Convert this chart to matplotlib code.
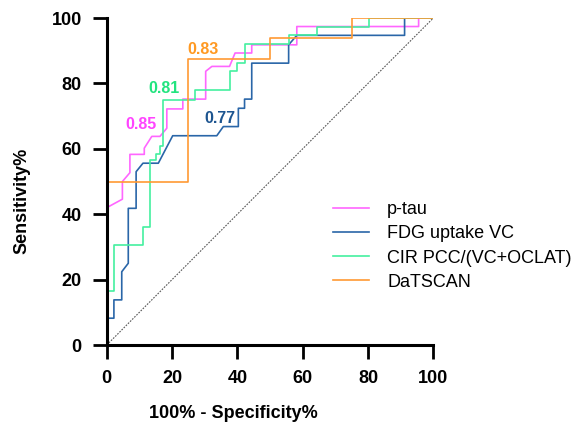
import matplotlib
matplotlib.use('Agg')
import matplotlib.pyplot as plt

plt.rcParams['font.family'] = ['Liberation Sans', 'DejaVu Sans']

# ROC curves (100% - specificity, sensitivity)
ptau_x = [0, 0, 4.8, 4.8, 7.1, 7.1, 11.5, 11.5, 13.8, 16.3, 18.4, 18.4, 23.3, 23.3,
          30.3, 30.3, 32.2, 37.6, 39.3, 44.4, 44.4, 58.2, 58.2, 95.5, 95.5, 100]
ptau_y = [0, 42, 44.6, 50, 52.7, 58.3, 58.3, 60.2, 63.8, 63.8, 66.3, 72.2, 72.2, 75.2,
          75.2, 83.7, 85.2, 85.2, 89.3, 89.3, 91.8, 91.8, 97.4, 97.4, 100, 100]

fdg_x = [0, 0, 2.2, 2.2, 4.6, 4.6, 6.6, 6.6, 9.0, 9.0, 11.1, 15.8, 20.2, 33.7, 35.7,
         40.3, 40.3, 42.2, 42.2, 44.4, 44.4, 55.7, 55.7, 58.2, 91.2, 91.2, 100]
fdg_y = [0, 8.2, 8.2, 13.8, 13.8, 22.4, 25.0, 41.8, 41.8, 53.0, 55.6, 55.6, 64.0, 64.0,
         66.8, 66.8, 72.4, 72.4, 75.2, 75.2, 86.2, 86.2, 91.8, 94.7, 94.7, 100, 100]

cir_x = [0, 0, 2.2, 2.2, 11.2, 11.2, 13.4, 13.4, 15.0, 15.0, 16.2, 16.2, 17.3, 17.3,
         26.9, 26.9, 37.8, 37.8, 40.0, 40.0, 42.2, 42.2, 55.7, 55.7, 64.5, 64.5,
         80.2, 80.2, 100]
cir_y = [0, 16.6, 16.6, 30.6, 30.6, 36.2, 36.2, 56.5, 56.5, 58.5, 58.5, 61.0, 61.0,
         75.0, 75.0, 78.0, 78.0, 83.7, 83.7, 86.2, 86.2, 92.0, 92.0, 94.7, 94.7, 97.4,
         97.4, 100, 100]

dat_x = [0, 0, 25, 25, 50, 50, 75, 75, 100]
dat_y = [0, 50, 50, 87.5, 87.5, 93.75, 93.75, 100, 100]

names = ['p-tau', 'FDG uptake VC', 'CIR PCC/(VC+OCLAT)', 'DaTSCAN']
colors = ['#ff66ff', '#2a66a8', '#44f0a0', '#ff9933']
auc_labels = ['0.85', '0.77', '0.81', '0.83']
label_colors = ['#ff44ff', '#1d5590', '#22e47f', '#ff9922']
label_pos = [(10.4, 67.3), (34.6, 69.4), (17.4, 78.3), (29.5, 90.3)]

fig = plt.figure(figsize=(5.75, 4.29), dpi=100)
ax = fig.add_axes([0.1856, 0.1958, 0.568, 0.7622])

ax.plot([0, 100], [0, 100], color='#555555', lw=0.8, linestyle=(0, (1.5, 1.2)))

curves = [(ptau_x, ptau_y), (fdg_x, fdg_y), (cir_x, cir_y), (dat_x, dat_y)]
for (xs, ys), c, n in zip(curves, colors, names):
    ax.plot(xs, ys, color=c, lw=1.2, label=n)

for t, c, (tx, ty) in zip(auc_labels, label_colors, label_pos):
    ax.text(tx, ty, t, color=c, fontsize=11.5, fontweight='bold',
            ha='center', va='center')

ax.set_xlim(0, 100)
ax.set_ylim(0, 100)
ax.set_xticks(range(0, 101, 20))
ax.set_yticks(range(0, 101, 20))
for s in ['top', 'right']:
    ax.spines[s].set_visible(False)
for s in ['left', 'bottom']:
    ax.spines[s].set_linewidth(2.2)
ax.tick_params(width=2, length=10, labelsize=13, pad=8)
for lab in ax.get_xticklabels() + ax.get_yticklabels():
    lab.set_fontweight('bold')

ax.set_xlabel('100% - Specificity%', fontsize=13, fontweight='bold')
ax.set_ylabel('Sensitivity%', fontsize=13, fontweight='bold')
ax.xaxis.set_label_coords(0.387, -0.183)
ax.yaxis.set_label_coords(-0.232, 0.44)

ax.legend(loc='upper left', bbox_to_anchor=(0.693, 0.44), frameon=False,
          borderpad=0, borderaxespad=0, fontsize=13, handlelength=2.0,
          handletextpad=1.0, labelspacing=0.4)

fig.savefig('out.png', dpi=100)
